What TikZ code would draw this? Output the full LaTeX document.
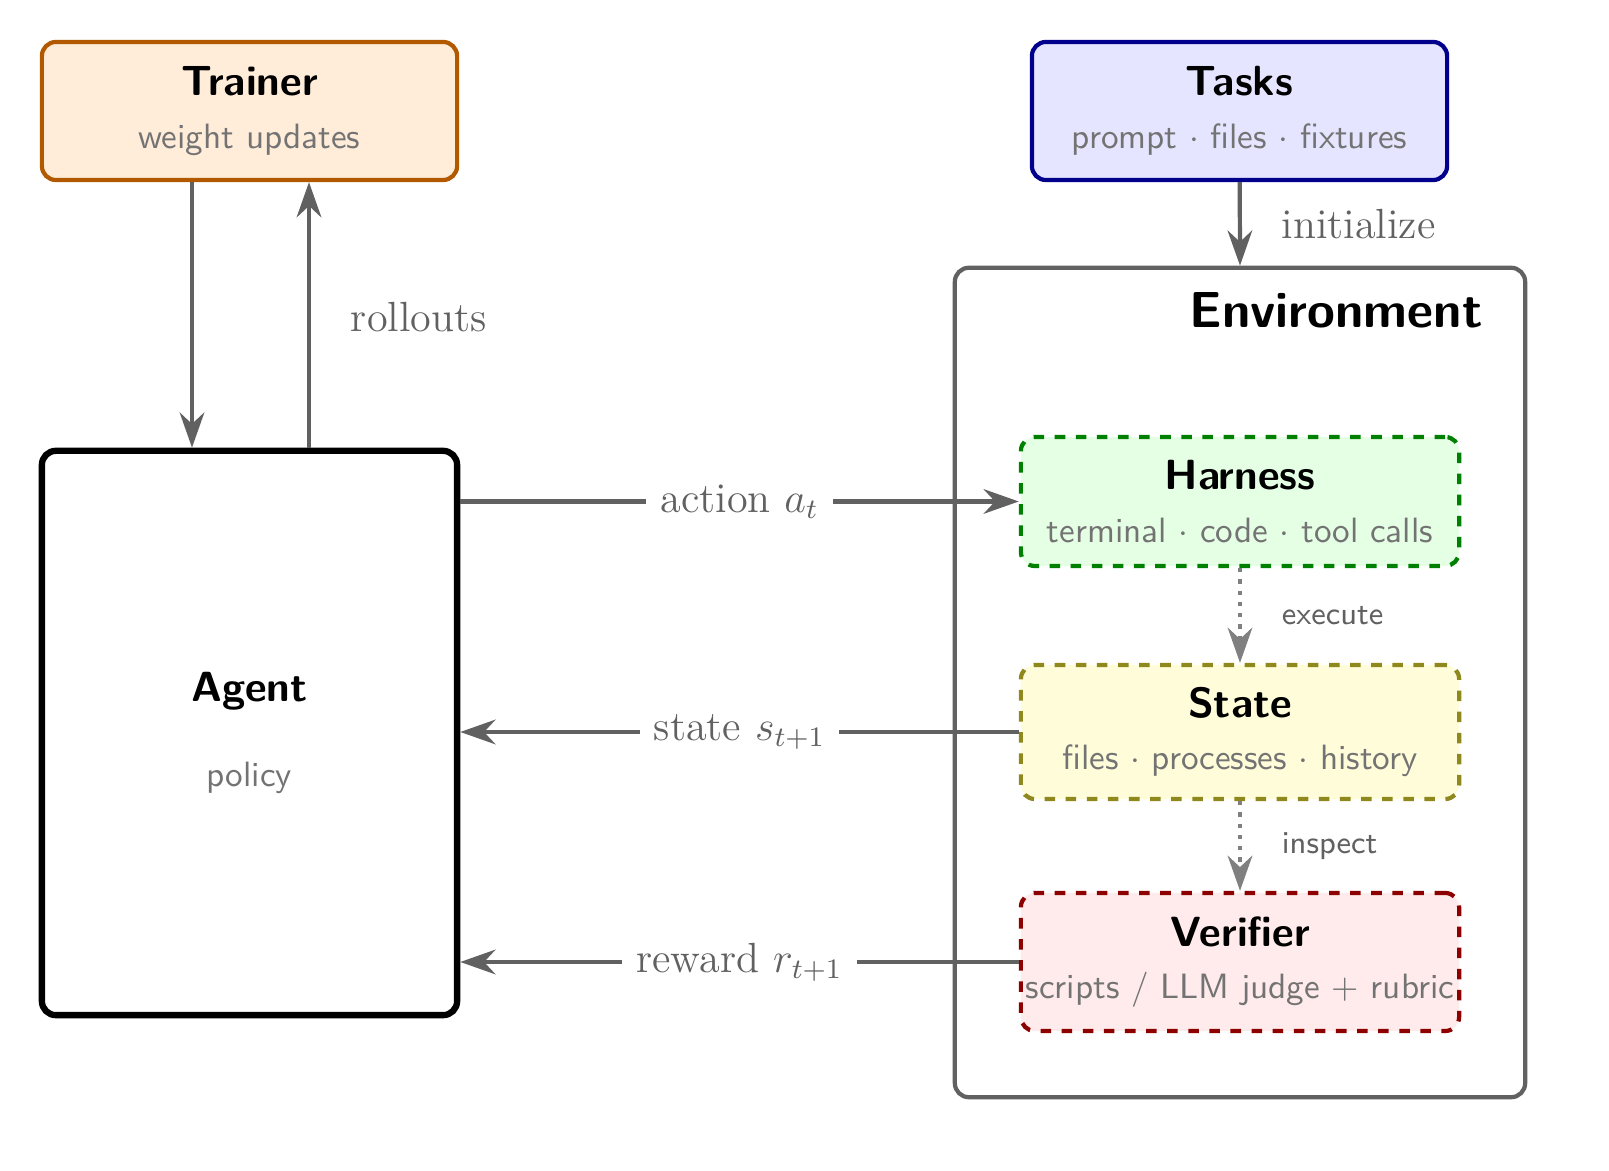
\documentclass[tikz,border=0pt]{standalone}
\usepackage{amsmath}
\usetikzlibrary{arrows.meta,positioning}
\definecolor{linegray}{gray}{0.38}
\tikzset{
  box/.style={rounded corners=4pt, line width=1.2pt, align=center, inner sep=0pt},
  link/.style={draw=linegray, line width=1.2pt, -{Stealth[length=10pt,width=7pt]}},
  probe/.style={draw=gray, line width=1.2pt, dotted, -{Stealth[length=10pt,width=7pt]}},
  elabel/.style={fill=white, text=linegray, font=\large, inner sep=4pt}
}
\newcommand{\sub}[1]{\\[3pt]{\sffamily\normalsize\color{gray!90!black}#1}}
\begin{document}
\begin{tikzpicture}[x=0.01cm,y=-0.01cm]
  \useasboundingbox (0,0) rectangle (1609,1171);
  % top row
  \node[box, draw=orange!70!black, fill=orange!15, minimum width=4.15cm, minimum height=1.38cm]
    (trainer) at (249.5,111) {{\sffamily\bfseries\large Trainer}\sub{weight updates}};
  \node[box, draw=blue!55!black, fill=blue!10, minimum width=4.15cm, minimum height=1.38cm]
    (tasks) at (1239.5,111) {{\sffamily\bfseries\large Tasks}\sub{prompt $\cdot$ files $\cdot$ fixtures}};
  % agent
  \node[box, draw=black, line width=1.8pt, fill=white, minimum width=4.15cm, minimum height=5.64cm]
    (agent) at (249.5,733) {{\sffamily\bfseries\large Agent}\\[12pt]{\sffamily\normalsize\color{gray!90!black}policy}};
  % environment
  \node[box, draw=linegray, minimum width=5.7cm, minimum height=8.29cm] (env) at (1240,682.5) {};
  \node[font=\sffamily\bfseries\Large, anchor=east] (envlabel) at (1495,310) {Environment};
  \node[box, dashed, draw=green!50!black, fill=green!10, minimum width=4.38cm, minimum height=1.29cm]
    (harness) at (1240,501.5) {{\sffamily\bfseries\large Harness}\sub{terminal $\cdot$ code $\cdot$ tool calls}};
  \node[box, dashed, draw=olive!80!gray, fill=yellow!15, minimum width=4.38cm, minimum height=1.34cm]
    (state) at (1240,732) {{\sffamily\bfseries\large State}\sub{files $\cdot$ processes $\cdot$ history}};
  \node[box, dashed, draw=red!55!black, fill=red!8, minimum width=4.38cm, minimum height=1.38cm]
    (verifier) at (1240,962) {{\sffamily\bfseries\large Verifier}\sub{scripts / LLM judge + rubric}};
  % trainer loop
  \draw[link] (trainer.south -| 192,0) -- (agent.north -| 192,0);
  \draw[link] (agent.north -| 309,0) -- node[right, text=linegray, font=\large, xshift=8pt, pos=0.49] {rollouts} (trainer.south -| 309,0);
  \draw[link] (tasks) -- node[right, text=linegray, font=\large, xshift=8pt] {initialize} (env.north);
  % interaction
  \draw[link] (agent.east |- harness) -- node[elabel] {action $a_t$} (harness.west);
  \draw[link] (state.west) -- node[elabel] {state $s_{t+1}$} (agent.east |- state);
  \draw[link] (verifier.west) -- node[elabel] {reward $r_{t+1}$} (agent.east |- verifier);
  \draw[probe] (harness) -- node[right, text=linegray, font=\sffamily\small, xshift=8pt] {execute} (state);
  \draw[probe] (state) -- node[right, text=linegray, font=\sffamily\small, xshift=8pt] {inspect} (verifier);
\end{tikzpicture}
\end{document}
